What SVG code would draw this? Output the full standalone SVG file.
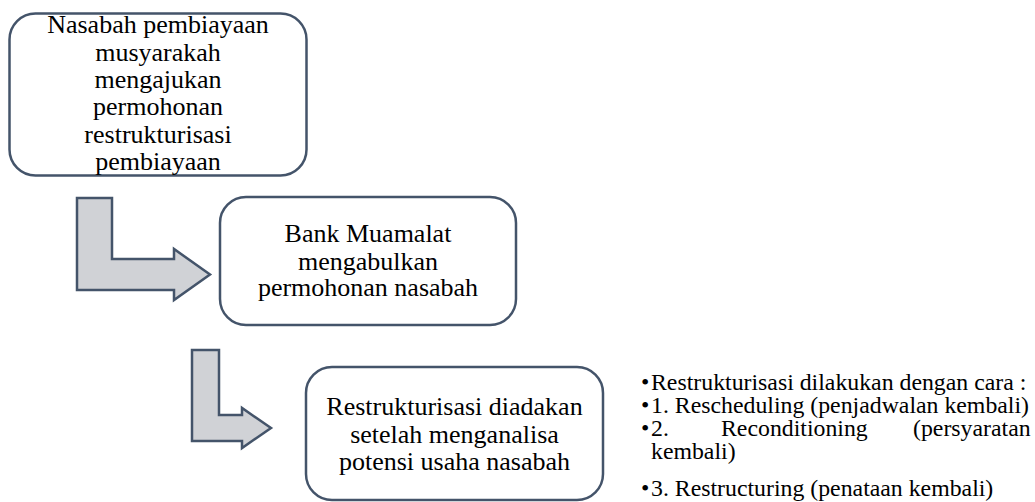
<svg xmlns="http://www.w3.org/2000/svg" width="1035" height="502" viewBox="0 0 1035 502">
<style>
.box{fill:#ffffff;stroke:#44546a;stroke-width:2.5}
.arrow{fill:#d0d2d6;stroke:#44546a;stroke-width:2.5;stroke-linejoin:miter}
.t{font-family:'Liberation Serif','Times New Roman',serif;font-size:26px;fill:#000000;text-anchor:middle}
.b{font-family:'Liberation Serif','Times New Roman',serif;font-size:23.8px;fill:#000000}
</style>
<rect width="1035" height="502" fill="#ffffff"/>
<g id="connectors">
<polygon class="arrow" points="77,198 112,198 112,259 174,259 174,249 210,274.5 174,300 174,290 77,290"/>
<polygon class="arrow" points="192,350 219,350 219,415 242,415 242,408 271,428 242,448 242,441 192,441"/>
</g>
<g id="node1" font-family="Liberation Serif">
<rect class="box" x="9.5" y="13.5" width="297" height="162" rx="26" ry="26"/>
<text class="t" x="158" y="33">Nasabah pembiayaan</text>
<text class="t" x="158" y="61">musyarakah</text>
<text class="t" x="158" y="88">mengajukan</text>
<text class="t" x="158" y="115">permohonan</text>
<text class="t" x="158" y="143">restrukturisasi</text>
<text class="t" x="158" y="170">pembiayaan</text>
</g>
<g id="node2" font-family="Liberation Serif">
<rect class="box" x="220" y="197" width="296" height="128" rx="26" ry="26"/>
<text class="t" x="368" y="242">Bank Muamalat</text>
<text class="t" x="368" y="270">mengabulkan</text>
<text class="t" x="368" y="296">permohonan nasabah</text>
</g>
<g id="node3" font-family="Liberation Serif">
<rect class="box" x="306" y="367" width="297" height="133" rx="26" ry="26"/>
<text class="t" x="454.5" y="415">Restrukturisasi diadakan</text>
<text class="t" x="454.5" y="443">setelah menganalisa</text>
<text class="t" x="454.5" y="470">potensi usaha nasabah</text>
</g>
<g id="notes" font-family="Liberation Serif">
<text class="b" y="390"><tspan x="641">•</tspan><tspan x="651">Restrukturisasi dilakukan dengan cara :</tspan></text>
<text class="b" y="413"><tspan x="641">•</tspan><tspan x="651">1. Rescheduling (penjadwalan kembali)</tspan></text>
<text class="b" y="436"><tspan x="641">•</tspan><tspan x="651">2.</tspan><tspan x="721">Reconditioning</tspan><tspan x="913">(persyaratan</tspan></text>
<text class="b" x="651" y="459">kembali)</text>
<text class="b" y="496"><tspan x="641">•</tspan><tspan x="651">3. Restructuring (penataan kembali)</tspan></text>
</g>
</svg>
